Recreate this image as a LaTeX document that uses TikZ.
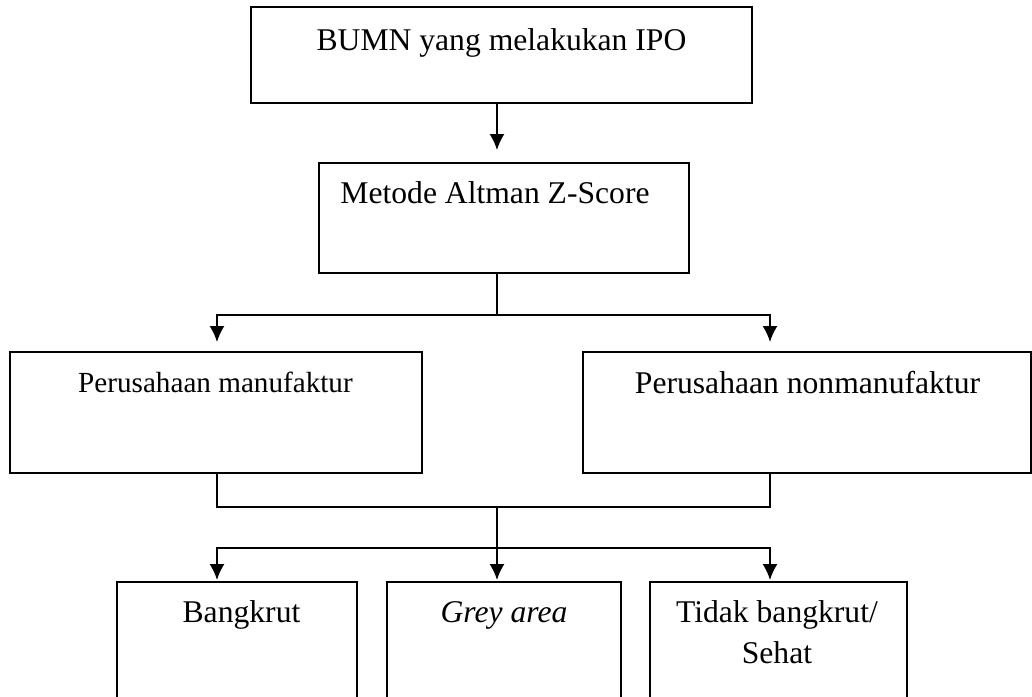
\documentclass[tikz,border=0pt]{standalone}
\usepackage{fontspec}
\setmainfont{Liberation Serif}
\usetikzlibrary{arrows.meta}

\begin{document}
\begin{tikzpicture}[>={Latex[length=0.32cm,width=0.3cm]}, x=0.02cm, y=-0.02cm, line width=1pt,
  kotak/.style={draw, inner sep=0pt},
  teks/.style={anchor=base, inner sep=0pt, font=\fontsize{18}{23.2}\selectfont}]
\useasboundingbox (0,0) rectangle (1032,697);

% kotak
\node[kotak, minimum width=10.02cm, minimum height=1.92cm] (ipo) at (501.5,55) {};
\node[kotak, minimum width=7.4cm, minimum height=2.2cm] (zscore) at (504,218) {};
\node[kotak, minimum width=8.24cm, minimum height=2.42cm] (manuf) at (216,412.5) {};
\node[kotak, minimum width=8.96cm, minimum height=2.42cm] (nonmanuf) at (807,412.5) {};
\node[kotak, minimum width=4.8cm, minimum height=3.56cm] (bangkrut) at (237,671) {};
\node[kotak, minimum width=4.68cm, minimum height=3.56cm] (grey) at (504,671) {};
\node[kotak, minimum width=5.14cm, minimum height=3.56cm] (sehat) at (778.5,671) {};

% teks
\node[teks] (ipot) at (501.5,50) {BUMN yang melakukan IPO};
\node[teks] (zscoret) at (495,203) {Metode Altman Z-Score};
\node[teks, font=\fontsize{16.6}{20}\selectfont] (manuft) at (215.5,392) {Perusahaan manufaktur};
\node[teks] (nonmanuft) at (807.5,393) {Perusahaan nonmanufaktur};
\node[teks] (bangkrutt) at (241.5,622) {Bangkrut};
\node[teks] (greyt) at (504,622) {\textit{Grey area}};
\node[teks, align=center] (sehatt) at (777,663) {Tidak bangkrut/\\Sehat};

% titik cabang
\coordinate (t1) at (497,150);
\coordinate (j1) at (497,315);
\coordinate (a1) at (217,342);
\coordinate (a2) at (770,342);
\coordinate (j2) at (497,507);
\coordinate (j3) at (497,548);
\coordinate (b1) at (217,580);
\coordinate (b2) at (497,580);
\coordinate (b3) at (770,580);

% IPO ke Z-Score
\draw[->] (ipo.south -| t1) -- (t1);

% Z-Score ke jenis perusahaan
\draw (zscore.south -| j1) -- (j1);
\draw[->] (j1) -| (a1);
\draw[->] (j1) -| (a2);

% jenis perusahaan ke hasil
\draw (manuf.south -| a1) -- (a1 |- j2) -- (a2 |- j2) -- (nonmanuf.south -| a2);
\draw (j2) -- (j3);
\draw[->] (j3) -| (b1);
\draw[->] (j3) -- (b2);
\draw[->] (j3) -| (b3);

\end{tikzpicture}
\end{document}
